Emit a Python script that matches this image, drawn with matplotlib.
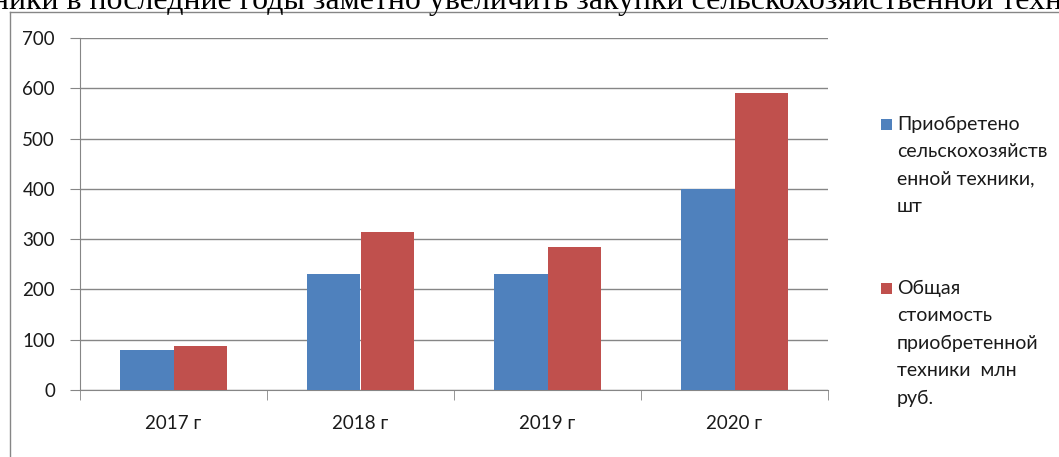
import matplotlib.pyplot as plt
from matplotlib.lines import Line2D
from matplotlib.patches import Rectangle
import numpy as np

# data
years = ['2017 г', '2018 г', '2019 г', '2020 г']
machines_count = [80, 230, 230, 400]
machines_cost = [87, 315, 285, 590]
series_names = [['Приобретено', 'сельскохозяйств', 'енной техники,', 'шт'],
                ['Общая', 'стоимость', 'приобретенной', 'техники  млн', 'руб.']]
yticks = [0, 100, 200, 300, 400, 500, 600, 700]

blue = '#4F81BD'
red = '#C0504D'
grey = '#868686'

plt.rcParams['font.family'] = ['Lato', 'DejaVu Sans']

W, H = 1059, 457
fig = plt.figure(figsize=(W / 100, H / 100), dpi=100)

# page text cut off at the top of the screenshot; size it so "...техн" reaches the right edge
page_text = 'ники в последние годы заметно увеличить закупки сельскохозяйственной техники'
visible = 'ники в последние годы заметно увеличить закупки сельскохозяйственной техн'
probe = fig.text(0, 0, visible, family='Liberation Serif', fontsize=20)
r = fig.canvas.get_renderer()
wpx = probe.get_window_extent(renderer=r).width
probe.remove()
fs = 20 * 1072 / wpx
fig.text(-8 / W, 1 - 9 / H, page_text, family='Liberation Serif', fontsize=fs,
         va='baseline', ha='left', color='black')

# chart frame (top and left edges visible)
fig.add_artist(Line2D([10 / W, 1], [1 - 12 / H, 1 - 12 / H], color=grey, lw=1))
fig.add_artist(Line2D([10 / W, 10 / W], [0, 1 - 12 / H], color=grey, lw=1))

ax = fig.add_axes([80 / W, (H - 390) / H, 748 / W, 352 / H])
x = np.arange(len(years))
w = 1 / 3.5
ax.bar(x - w / 2, machines_count, w, color=blue, zorder=3)
ax.bar(x + w / 2, machines_cost, w, color=red, zorder=3)

ax.set_xlim(-0.5, len(years) - 0.5)
ax.set_ylim(0, 700)
ax.set_yticks(yticks)
ax.yaxis.grid(True, color=grey, lw=1, zorder=0)
ax.set_xticks(x)
ax.set_xticklabels(years)
ax.set_xticks(np.arange(-0.5, len(years)), minor=True)
ax.tick_params(axis='x', which='major', length=0, pad=18, labelsize=13.5)
ax.tick_params(axis='x', which='minor', length=7, color=grey, direction='out')
ax.tick_params(axis='y', length=7, color=grey, pad=11, labelsize=13.5)
for lab in ax.get_xticklabels() + ax.get_yticklabels():
    lab.set_color('#1a1a1a')
for s in ['top', 'right']:
    ax.spines[s].set_visible(False)
for s in ['left', 'bottom']:
    ax.spines[s].set_color(grey)

# legend drawn by hand to match the layout
for col, lines, y0 in [(blue, series_names[0], 124), (red, series_names[1], 288)]:
    fig.add_artist(Rectangle((881 / W, 1 - (y0 + 5.5) / H), 11 / W, 11 / H,
                             facecolor=col, edgecolor='none'))
    for i, line in enumerate(lines):
        fig.text(897 / W, 1 - (y0 + i * 27.5) / H, line, fontsize=14,
                 va='center', ha='left', color='#1a1a1a')

fig.savefig('out.png', dpi=100)
